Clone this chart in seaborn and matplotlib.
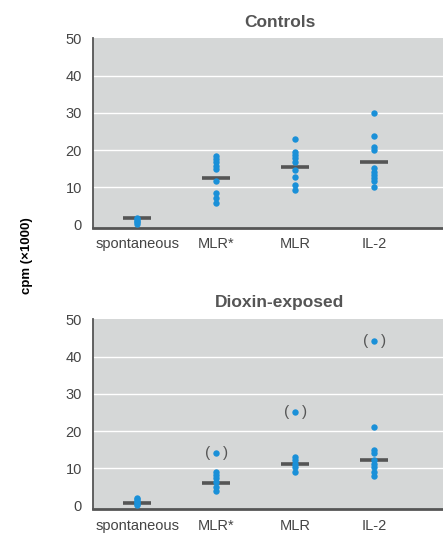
import numpy as np
import pandas as pd
import seaborn as sns
import matplotlib.pyplot as plt

categories = ['spontaneous', 'MLR*', 'MLR', 'IL-2']

controls = {
    'spontaneous': [0.2, 0.6, 1.0, 1.4, 1.8],
    'MLR*': [18.5, 17.6, 16.8, 15.8, 15.0, 11.6, 8.4, 7.1, 5.8],
    'MLR': [23.0, 19.6, 18.7, 17.8, 16.9, 14.7, 12.7, 10.7, 9.3],
    'IL-2': [30.0, 23.9, 20.9, 19.9, 15.1, 14.2, 13.4, 12.5, 11.6, 10.2],
}
controls_mean = [1.8, 12.5, 15.4, 16.8]

dioxin = {
    'spontaneous': [0.1, 0.5, 0.9, 1.3, 1.7, 2.0],
    'MLR*': [9.1, 8.2, 7.3, 6.4, 5.1, 3.8],
    'MLR': [13.1, 12.2, 11.3, 10.4, 9.1],
    'IL-2': [21.1, 14.9, 14.0, 12.2, 11.3, 10.4, 9.1, 8.0],
}
dioxin_outliers = [None, 14.2, 25.0, 44.1]
dioxin_mean = [0.8, 6.0, 11.1, 12.3]

BG = '#d5d7d7'
DOT = '#1a90d8'
DARK = '#555555'
TXT = '#444444'

sns.set_theme(style='white')
plt.rcParams['font.family'] = ['Liberation Sans Narrow', 'Liberation Sans', 'DejaVu Sans']


def long_form(d, extra=None):
    rows = []
    for i, c in enumerate(categories):
        for v in d[c]:
            rows.append((c, v))
        if extra is not None and extra[i] is not None:
            rows.append((c, extra[i]))
    return pd.DataFrame(rows, columns=['cat', 'cpm'])


def panel(ax, d, means, outliers=None, ybottom=-0.8):
    df = long_form(d, outliers)
    ax.set_facecolor(BG)
    for y in [10, 20, 30, 40]:
        ax.axhline(y, color='white', lw=1.0, zorder=0)
    sns.stripplot(data=df, x='cat', y='cpm', order=categories, jitter=False,
                  color=DOT, size=4.6, linewidth=0, ax=ax, zorder=3)
    pos = np.arange(len(categories))
    ax.hlines(means, pos - 0.18, pos + 0.18, color=DARK, lw=2.6, zorder=2)
    if outliers is not None:
        for p, v in zip(pos, outliers):
            if v is None:
                continue
            ax.annotate('(', (p, v), xytext=(-9, 0), textcoords='offset pixels',
                        ha='center', va='center', fontsize=11, color=DARK)
            ax.annotate(')', (p, v), xytext=(9, 0), textcoords='offset pixels',
                        ha='center', va='center', fontsize=11, color=DARK)
    ax.set_xlim(-0.56, 3.87)
    ax.set_ylim(ybottom, 50)
    ax.set_yticks([0, 10, 20, 30, 40, 50])
    ax.set_xlabel('')
    ax.set_ylabel('')
    ax.tick_params(axis='both', length=0, labelsize=10.5, labelcolor=TXT)
    ax.tick_params(axis='y', pad=8)
    ax.tick_params(axis='x', pad=7)
    for s in ['top', 'right']:
        ax.spines[s].set_visible(False)
    ax.spines['left'].set_color(DARK)
    ax.spines['left'].set_linewidth(1.3)
    ax.spines['bottom'].set_color(DARK)
    ax.spines['bottom'].set_linewidth(2.0)


fig = plt.figure(figsize=(4.43, 5.33), dpi=100)
ax1 = fig.add_axes([0.21, 0.573, 0.79, 0.355])
ax2 = fig.add_axes([0.21, 0.045, 0.79, 0.356])

panel(ax1, controls, controls_mean)
panel(ax2, dioxin, dioxin_mean, outliers=dioxin_outliers, ybottom=-0.9)

fig.text(280 / 443, 1 - 22 / 533, 'Controls', ha='center', va='center',
         fontsize=12.5, fontweight='bold', color=DARK)
fig.text(280 / 443, 1 - 303 / 533, 'Dioxin-exposed', ha='center', va='center',
         fontsize=12.5, fontweight='bold', color=DARK)
fig.text(27 / 443, 1 - 256 / 533, 'cpm (\u00d71000)', rotation=90, ha='center',
         va='center', fontsize=9.5, fontweight='bold', color='black')

fig.savefig('out.png', dpi=100)
